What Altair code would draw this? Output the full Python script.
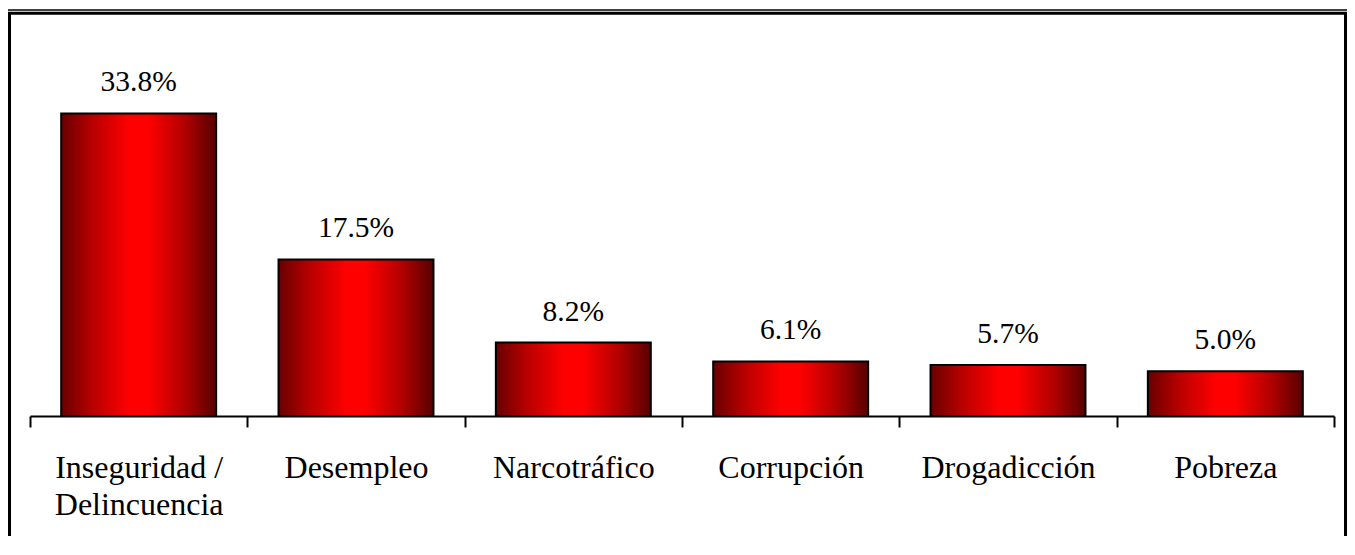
import altair as alt
import pandas as pd

categories = ["Inseguridad / Delincuencia", "Desempleo", "Narcotráfico", "Corrupción", "Drogadicción", "Pobreza"]
values = [33.8, 17.5, 8.2, 6.1, 5.7, 5.0]

df = pd.DataFrame({"cat": categories, "v": values})

FONT = "'Liberation Serif', 'Times New Roman', serif"
W, H = 1304, 358

grad = alt.Gradient(
    gradient="linear", x1=0, y1=0, x2=1, y2=0,
    stops=[
        alt.GradientStop(offset=0, color="#680000"),
        alt.GradientStop(offset=0.2, color="#b80000"),
        alt.GradientStop(offset=0.44, color="#ff0000"),
        alt.GradientStop(offset=0.56, color="#ff0000"),
        alt.GradientStop(offset=0.8, color="#b00000"),
        alt.GradientStop(offset=1, color="#580000"),
    ],
)

x_enc = alt.X(
    "cat:N", sort=categories, title=None,
    scale=alt.Scale(paddingInner=0, paddingOuter=0),
    axis=alt.Axis(
        tickBand="extent", labelAngle=0, domainColor="black", domainWidth=2,
        tickColor="black", tickWidth=2, tickSize=11, labelFont=FONT,
        labelFontSize=32, labelColor="black", labelPadding=25,
        labelLineHeight=37, labelBaseline="top",
        labelExpr="datum.label == 'Inseguridad / Delincuencia' ? ['Inseguridad /', 'Delincuencia'] : datum.label",
    ),
)
y_enc = alt.Y("v:Q", scale=alt.Scale(domain=[0, 40]), axis=None)

base = alt.Chart(df)
bars = base.mark_bar(
    color=grad, stroke="black", strokeWidth=2, width=alt.RelativeBandSize(0.713)
).encode(x=x_enc, y=y_enc)

texts = base.transform_calculate(
    lab="format(datum.v, '.1f') + '%'"
).mark_text(
    font=FONT, fontSize=29.5, color="black", baseline="alphabetic", dy=-22
).encode(x=alt.X("cat:N", sort=categories), y=y_enc, text="lab:N")

deco = alt.Chart(alt.Data(values=[{"a": 1}]))
frame = deco.mark_rect(fill=None, stroke="black", strokeWidth=3).encode(
    x=alt.value(-20.5), x2=alt.value(1315.5), y=alt.value(-44.7), y2=alt.value(600)
)
thin = deco.mark_rule(stroke="black", strokeWidth=1.5).encode(
    x=alt.value(-22), x2=alt.value(1317), y=alt.value(-48)
)

chart = alt.layer(bars, texts, frame, thin).properties(
    width=W, height=H, autosize="none",
    padding={"left": 22, "top": 50, "right": 13, "bottom": 120},
).configure_view(stroke=None)

chart.save("out.html", embed_options={"renderer": "svg", "actions": False})
